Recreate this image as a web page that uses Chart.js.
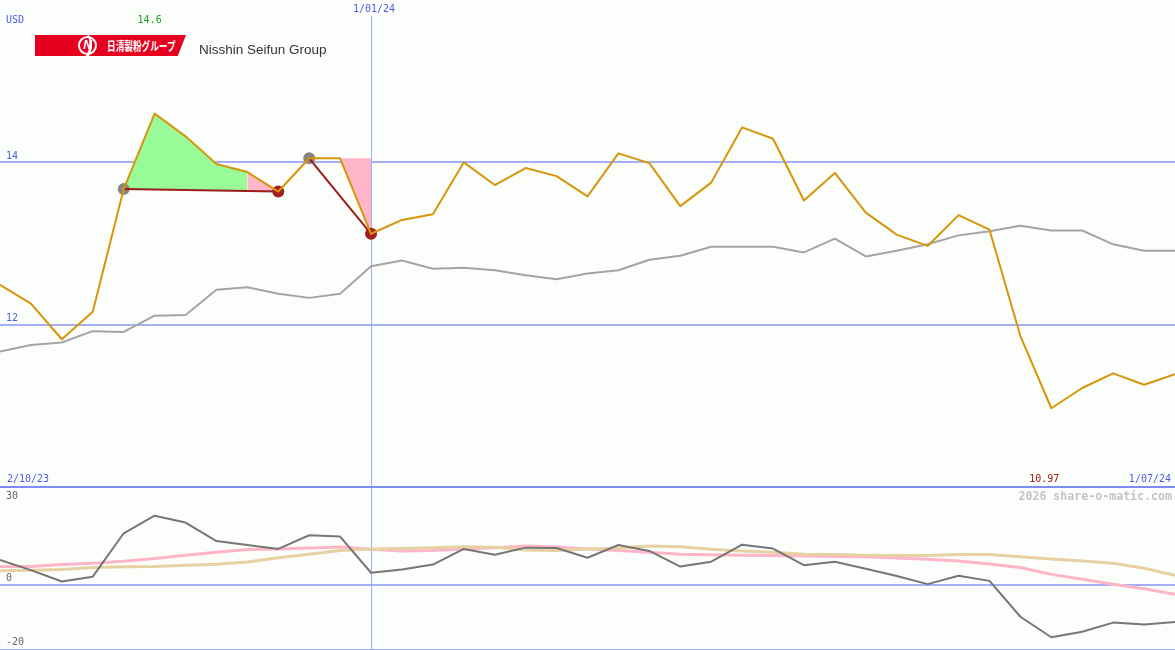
<!DOCTYPE html>
<html>
<head>
<meta charset="utf-8">
<script src="https://cdn.jsdelivr.net/npm/chart.js@4/dist/chart.umd.min.js"></script>
<style>
  html, body { margin: 0; padding: 0; }
  body { width: 1175px; height: 650px; overflow: hidden; position: relative; background: #fcfefc; font-family: "DejaVu Sans Mono", monospace; }
  #cTop { position: absolute; left: 0; top: 0; }
  #cBot { position: absolute; left: 0; top: 487px; }
  #sep { position: absolute; left: 0; top: 486px; width: 1175px; height: 2px; background: #7d8cf0; }
  .t { position: absolute; font-size: 10px; line-height: 12px; white-space: nowrap; }
  #logo { position: absolute; left: 35px; top: 35px; width: 151px; height: 21px; background: #e50020; overflow: hidden;
          clip-path: polygon(0 0, 100% 0, 94.5% 100%, 0 100%); }
  #logo .ring { position: absolute; left: 43px; top: 1px; width: 15px; height: 15px; border: 2px solid #fff; border-radius: 50%;
          color: #fff; font: italic bold 12px "Liberation Sans", sans-serif; text-align: center; line-height: 15px; }
  #logo .sw { position: absolute; left: 20px; top: -8px; width: 34px; height: 38px; border-right: 3px solid #fff; border-radius: 50%; transform: rotate(20deg); }
  #logo .jp { position: absolute; left: 72px; top: 2px; color: #fff; font: bold 12px "Noto Sans CJK JP", sans-serif; line-height: 17px;
          transform: scaleX(0.72); transform-origin: 0 0; white-space: nowrap; }
  #cname { position: absolute; left: 199px; top: 41px; font: 13.5px "Liberation Sans", Arial, sans-serif; color: #333; line-height: 17px; }
  #wm { position: absolute; right: 3px; top: 489px; font: bold 11.6px "DejaVu Sans Mono", monospace; color: #c4c4c4; line-height: 14px; }
</style>
</head>
<body>
<canvas id="cTop" width="1175" height="487"></canvas>
<canvas id="cBot" width="1175" height="163"></canvas>
<div id="sep"></div>
<div id="logo"><div class="sw"></div><div class="ring">N</div><div class="jp">日清製粉グループ</div></div>
<div id="cname">Nisshin Seifun Group</div>
<div class="t" style="left:6px;top:14px;color:#4a5ce8">USD</div>
<div id="wm">2026 share-o-matic.com</div>
<script>
// ---------- data ----------
const dateLabels = ['2/10/23', '1/01/24', '1/07/24'];
const dateIndex = [0, 12, 38];
const upperTicks = [12, 14];
const lowerTicks = [-20, 0, 30];

const price = [12.49, 12.26, 11.82, 12.16, 13.67, 14.6, 14.32, 13.98, 13.88, 13.64,
               14.05, 14.05, 13.12, 13.29, 13.36, 14.0, 13.72, 13.93, 13.83, 13.58,
               14.11, 13.99, 13.46, 13.75, 14.43, 14.29, 13.53, 13.87, 13.38, 13.11,
               12.97, 13.35, 13.17, 11.86, 10.97, 11.22, 11.40, 11.26, 11.39];
const average = [11.67, 11.75, 11.78, 11.92, 11.91, 12.11, 12.12, 12.43, 12.46, 12.38,
                 12.33, 12.38, 12.72, 12.79, 12.69, 12.70, 12.67, 12.61, 12.56, 12.63,
                 12.67, 12.80, 12.85, 12.96, 12.96, 12.96, 12.89, 13.06, 12.84, 12.91,
                 12.99, 13.10, 13.15, 13.22, 13.16, 13.16, 12.99, 12.91, 12.91];
const momentum = [7.6, 4.5, 1.0, 2.5, 15.8, 21.2, 19.1, 13.4, 12.2, 11.0,
                  15.2, 14.8, 3.7, 4.7, 6.2, 11.0, 9.2, 11.4, 11.3, 8.3,
                  12.2, 10.4, 5.6, 7.1, 12.3, 11.1, 6.0, 7.1, 4.9, 2.7,
                  0.2, 2.8, 1.2, -9.8, -16.1, -14.4, -11.6, -12.2, -11.4];
const momFast = [5.6, 5.6, 6.2, 6.6, 7.2, 8.1, 9.1, 10.0, 10.8, 11.0,
                 11.3, 11.6, 10.9, 10.4, 10.5, 11.0, 11.4, 11.9, 11.6, 11.0,
                 10.5, 10.0, 9.4, 9.2, 9.1, 9.0, 8.8, 8.7, 8.6, 8.2,
                 7.8, 7.3, 6.4, 5.3, 3.2, 1.7, 0.2, -1.2, -2.9];
const momSlow = [4.3, 4.5, 4.7, 5.3, 5.5, 5.6, 6.0, 6.3, 7.0, 8.3,
                 9.4, 10.5, 11.0, 11.1, 11.4, 11.7, 11.5, 10.7, 10.5, 11.0,
                 11.2, 11.9, 11.7, 10.9, 10.4, 10.0, 9.4, 9.3, 9.1, 9.0,
                 9.0, 9.3, 9.3, 8.6, 7.9, 7.3, 6.6, 5.1, 2.9];
const pivotHigh = [4, 10];
const pivotLow = [9, 12];
const greenRange = [4, 8];
const pinkRange = [8, 9];
const pinkLevelRange = [11, 12];

// ---------- helpers ----------
const pts = (arr, a, b) => arr.slice(a, b + 1).map((v, k) => ({ x: a + k, y: v }));
const seg = (i, j) => [{ x: i, y: price[i] }, { x: j, y: price[j] }];
const BLUE = '#4a5ce8', GRID = '#a3aff7', VLINE = '#9ea9f8';
const FONT = '10px "DejaVu Sans Mono", monospace';

const decor = {
  id: 'decor',
  beforeDatasetsDraw(chart, args, o) {
    const { ctx, chartArea: a, scales: { x, y } } = chart;
    ctx.save();
    ctx.strokeStyle = GRID;
    ctx.lineWidth = 2;
    o.ticks.forEach(v => {
      const py = Math.round(y.getPixelForValue(v));
      ctx.beginPath(); ctx.moveTo(a.left, py); ctx.lineTo(a.right, py); ctx.stroke();
    });
    ctx.strokeStyle = VLINE;
    ctx.lineWidth = 1;
    const vx = Math.round(x.getPixelForValue(dateIndex[1])) + 0.5;
    ctx.beginPath(); ctx.moveTo(vx, o.vTop); ctx.lineTo(vx, a.bottom); ctx.stroke();
    ctx.restore();
  },
  afterDatasetsDraw(chart, args, o) {
    const { ctx, chartArea: a, scales: { x, y } } = chart;
    ctx.save();
    ctx.font = FONT;
    ctx.textBaseline = 'middle';
    ctx.textAlign = 'left';
    ctx.fillStyle = o.tickColor;
    o.ticks.forEach(v => {
      let py = y.getPixelForValue(v) - 6;
      py = Math.max(9, Math.min(a.bottom - 8, py));
      ctx.fillText(String(v), 6, py);
    });
    if (o.dates) {
      ctx.fillStyle = BLUE;
      ctx.textAlign = 'left';
      ctx.fillText(dateLabels[0], 7, a.bottom - 8);
      ctx.textAlign = 'center';
      ctx.fillText(dateLabels[1], x.getPixelForValue(dateIndex[1]) + 3, 9);
      ctx.textAlign = 'right';
      ctx.fillText(dateLabels[2], a.right - 4, a.bottom - 8);
      // max / min labels
      let mi = 0, ma = 0;
      price.forEach((v, i) => { if (v > price[ma]) ma = i; if (v < price[mi]) mi = i; });
      ctx.textAlign = 'center';
      ctx.fillStyle = '#1f9a1f';
      ctx.fillText(String(price[ma]), x.getPixelForValue(ma) - 5, 20);
      ctx.fillStyle = '#a01818';
      ctx.fillText(String(price[mi]), x.getPixelForValue(mi) - 7, a.bottom - 8);
    }
    ctx.restore();
  }
};

const baseOpts = (min, max, decorOpts) => ({
  responsive: false,
  animation: false,
  events: [],
  layout: { padding: 0, autoPadding: false },
  plugins: { legend: { display: false }, tooltip: { enabled: false }, decor: decorOpts },
  elements: { line: { tension: 0, borderJoinStyle: 'round' }, point: { radius: 0 } },
  scales: {
    x: { type: 'linear', min: 0, max: 38, display: false },
    y: { type: 'linear', min, max, display: false }
  }
});

new Chart(document.getElementById('cTop'), {
  type: 'line',
  data: {
    datasets: [
      { data: pts(price, 0, 38), borderColor: '#d6950a', borderWidth: 2, fill: false },
      { data: seg(pivotHigh[0], pivotLow[0]), borderColor: '#9c1c1c', borderWidth: 2, fill: false },
      { data: seg(pivotHigh[1], pivotLow[1]), borderColor: '#9c1c1c', borderWidth: 2, fill: false },
      { data: pivotHigh.map(i => ({ x: i, y: price[i] })), showLine: false, pointRadius: 6,
        pointBackgroundColor: '#868686', pointBorderWidth: 0 },
      { data: pivotLow.map(i => ({ x: i, y: price[i] })), showLine: false, pointRadius: 6,
        pointBackgroundColor: '#a31f1f', pointBorderWidth: 0 },
      { data: pts(average, 0, 38), borderColor: '#a4a4a4', borderWidth: 2, fill: false },
      { data: pts(price, greenRange[0], greenRange[1]), borderColor: 'rgba(0,0,0,0)', borderWidth: 0,
        fill: { target: 1 }, backgroundColor: '#98fb98' },
      { data: pts(price, pinkRange[0], pinkRange[1]), borderColor: 'rgba(0,0,0,0)', borderWidth: 0,
        fill: { target: 1 }, backgroundColor: '#ffb6c8' },
      { data: [{ x: pinkLevelRange[0], y: price[pivotHigh[1]] }, { x: pinkLevelRange[1], y: price[pivotHigh[1]] }],
        borderColor: 'rgba(0,0,0,0)', borderWidth: 0, fill: { target: 0 }, backgroundColor: '#ffb6c8' }
    ]
  },
  options: baseOpts(10, 16, { ticks: upperTicks, tickColor: BLUE, dates: true, vTop: 16 }),
  plugins: [decor]
});

new Chart(document.getElementById('cBot'), {
  type: 'line',
  data: {
    datasets: [
      { data: pts(momentum, 0, 38), borderColor: '#767676', borderWidth: 2, fill: false },
      { data: pts(momSlow, 0, 38), borderColor: '#e6d1a2', borderWidth: 3, fill: false },
      { data: pts(momFast, 0, 38), borderColor: '#ffb5c8', borderWidth: 3, fill: false }
    ]
  },
  options: baseOpts(-20, 30, { ticks: lowerTicks, tickColor: '#666666', dates: false, vTop: 0 }),
  plugins: [decor]
});
</script>
</body>
</html>
